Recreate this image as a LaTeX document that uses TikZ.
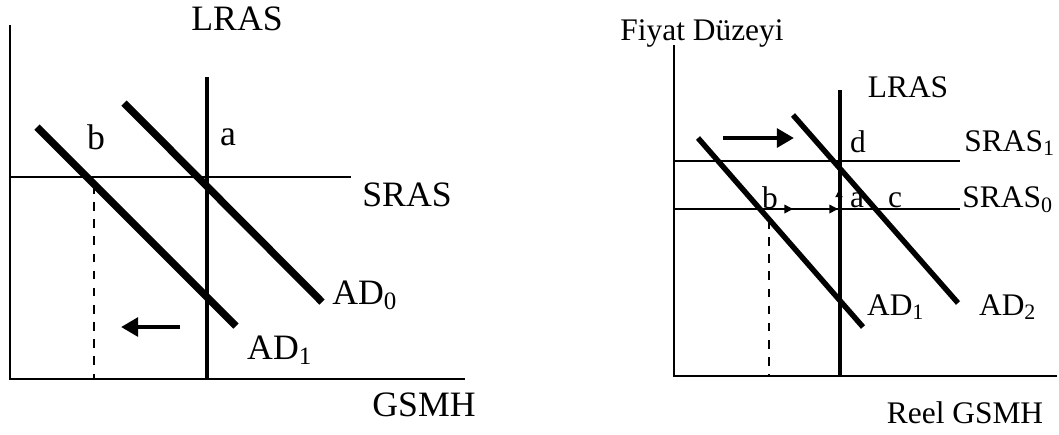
\documentclass[tikz,border=0pt]{standalone}
\usepackage{fontspec}
\setmainfont{Liberation Serif}
\usetikzlibrary{arrows.meta}
\tikzset{
  axis/.style={line width=0.7pt},
  lras/.style={line width=1.5pt},
  adline/.style={line width=2.6pt},
  sras/.style={line width=0.6pt},
  guide/.style={line width=0.6pt,dashed},
  shiftarrow/.style={line width=1.6pt,-{Triangle[length=6pt,width=6.5pt]}},
  movearrow/.style={line width=0.5pt,-{Triangle[length=3pt,width=3pt]}},
  biglbl/.style={font=\fontsize{12.5}{14}\selectfont,inner sep=0pt},
  smalllbl/.style={font=\fontsize{11}{13}\selectfont,inner sep=0pt},
}
\begin{document}
\begin{tikzpicture}[x=0.35pt,y=-0.35pt]
    \useasboundingbox (0,0) rectangle (1059,434);

    % left panel
    \coordinate (O1) at (10,379);
    \coordinate (Y1) at (10,25);
    \coordinate (X1) at (465,379);
    \coordinate (L1t) at (207,77);
    \coordinate (L1b) at (207,379);
    \coordinate (S1l) at (10,177);
    \coordinate (S1r) at (351,177);
    \coordinate (A0t) at (124,103);
    \coordinate (A0b) at (322,302);
    \coordinate (A1t) at (37,127);
    \coordinate (A1b) at (236,326);
    \coordinate (D1t) at (94,185);
    \coordinate (D1b) at (94,379);
    \coordinate (M1s) at (180,327);
    \coordinate (M1e) at (121,327);

    \draw[axis] (Y1) -- (O1) -- (X1);
    \draw[sras] (S1l) -- (S1r);
    \draw[guide] (D1t) -- (D1b);
    \draw[lras] (L1t) -- (L1b);
    \draw[adline] (A0t) -- (A0b);
    \draw[adline] (A1t) -- (A1b);
    \draw[shiftarrow] (M1s) -- (M1e);

    \node[biglbl] (lrasL) at (237,19) {LRAS};
    \node[biglbl] (bL) at (96,137) {b};
    \node[biglbl] (aL) at (228,137) {a};
    \node[biglbl] (srasL) at (407,195) {SRAS};
    \node[biglbl] (ad0L) at (365,295) {AD\textsubscript{0}};
    \node[biglbl] (ad1L) at (280,350) {AD\textsubscript{1}};
    \node[biglbl] (gsmhL) at (424,405) {GSMH};

    % right panel
    \coordinate (O2) at (674,376);
    \coordinate (Y2) at (674,45);
    \coordinate (X2) at (1057,376);
    \coordinate (L2t) at (840,90);
    \coordinate (L2b) at (840,376);
    \coordinate (Ta) at (674,161);
    \coordinate (Tb) at (960,161);
    \coordinate (Za) at (674,209);
    \coordinate (Zb) at (960,209);
    \coordinate (A2t) at (793,115);
    \coordinate (A2b) at (958,303);
    \coordinate (B1t) at (698,138);
    \coordinate (B1b) at (863,327);
    \coordinate (D2t) at (769,220);
    \coordinate (D2b) at (769,376);
    \coordinate (M2s) at (723,138);
    \coordinate (M2e) at (794,138);
    \coordinate (P1s) at (770,209);
    \coordinate (P1e) at (793,209);
    \coordinate (P2s) at (816,209);
    \coordinate (P2e) at (838,209);
    \coordinate (U1s) at (839,205);
    \coordinate (U1e) at (839,190);

    \draw[axis] (Y2) -- (O2) -- (X2);
    \draw[sras] (Ta) -- (Tb);
    \draw[sras] (Za) -- (Zb);
    \draw[guide] (D2t) -- (D2b);
    \draw[movearrow] (P1s) -- (P1e);
    \draw[movearrow] (P2s) -- (P2e);
    \draw[movearrow,-{Triangle[length=2.5pt,width=2.5pt]}] (U1s) -- (U1e);
    \draw[lras] (L2t) -- (L2b);
    \draw[adline,line width=1.9pt] (A2t) -- (A2b);
    \draw[adline,line width=1.9pt] (B1t) -- (B1b);
    \draw[shiftarrow] (M2s) -- (M2e);

    \node[smalllbl] (fiyatR) at (702,33) {Fiyat Düzeyi};
    \node[smalllbl] (lrasR) at (908,87) {LRAS};
    \node[smalllbl] (dR) at (858,142) {d};
    \node[smalllbl] (sras1R) at (1010,143) {SRAS\textsubscript{1}};
    \node[smalllbl] (bR) at (770,198) {b};
    \node[smalllbl] (aR) at (857,200) {a};
    \node[smalllbl] (cR) at (895,200) {c};
    \node[smalllbl] (sras0R) at (1008,200) {SRAS\textsubscript{0}};
    \node[smalllbl] (ad1R) at (896,307) {AD\textsubscript{1}};
    \node[smalllbl] (ad2R) at (1008,307) {AD\textsubscript{2}};
    \node[smalllbl] (gsmhR) at (965,413) {Reel GSMH};
\end{tikzpicture}
\end{document}
